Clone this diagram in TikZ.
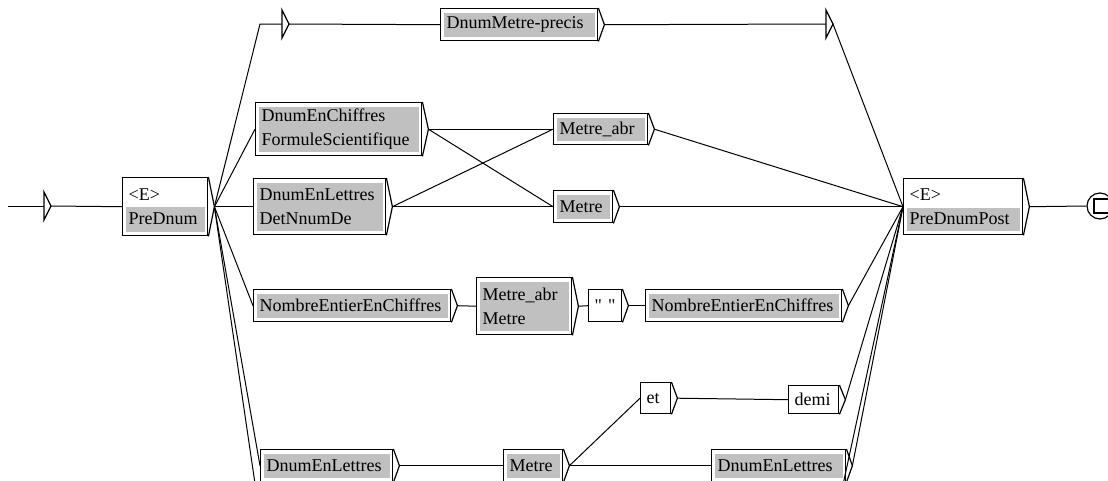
\documentclass[tikz,border=0pt]{standalone}
\usepackage{fontspec}
\setmainfont{Liberation Serif}
\newfontfamily\qfont{Liberation Serif}[Ligatures=TeXOff]
\usetikzlibrary{calc}
\definecolor{boxgrey}{RGB}{192,192,192}
\tikzset{
  conn/.style={line width=1pt},
  tri/.style={line width=1.2pt},
  ubox/.style={draw, line width=1.4pt, fill=white, anchor=north west, inner xsep=6pt, inner ysep=0pt,
    font=\fontsize{18}{24}\selectfont, align=left},
  greyall/.style={path picture={\fill[boxgrey] ([shift={(3pt,-4pt)}]path picture bounding box.north west) rectangle ([shift={(-3pt,4pt)}]path picture bounding box.south east);}},
  greylow/.style={path picture={\fill[boxgrey] ([shift={(3pt,-#1)}]path picture bounding box.north west) rectangle ([shift={(-3pt,4pt)}]path picture bounding box.south east);}},
  sz/.code 2 args={\pgfmathsetlengthmacro\boxtw{#1pt-12pt}\edef\boxtmp{\noexpand\tikzset{minimum width=#1pt, minimum height=#2pt, text width=\boxtw}}\boxtmp},
}
\begin{document}
\hyphenpenalty=10000
\exhyphenpenalty=10000
\begin{tikzpicture}[x=1pt,y=-1pt]
\useasboundingbox (0,0) rectangle (1108,480);
\fill[white] (0,0) rectangle (1108,480);
\clip (0,0) rectangle (1108,480);

% boxes
\node[ubox, sz={85}{58}, greylow=29pt] (pre) at (122,177) {<E>\\PreDnum};
\node[ubox, sz={157}{32}, greyall] (dmp) at (440,8) {DnumMetre-precis};
\node[ubox, sz={166}{53}, greyall] (A) at (255,102) {DnumEnChiffres\\FormuleScientifique};
\node[ubox, sz={132}{56}, greyall] (B) at (253,178) {DnumEnLettres\\DetNnumDe};
\node[ubox, sz={94}{31}, greyall] (C) at (553,113) {Metre\_abr};
\node[ubox, sz={59}{32}, greyall] (D) at (553,190) {Metre};
\node[ubox, sz={197}{32}, greyall] (N1) at (253,289) {NombreEntierEnChiffres};
\node[ubox, sz={95}{57}, greyall] (MM) at (476,277) {Metre\_abr\\Metre};
\node[ubox, sz={33}{32}] (Q) at (588,289) {\mbox{\qfont\char34\ \char34}};
\node[ubox, sz={196}{32}, greyall] (N2) at (645,289) {NombreEntierEnChiffres};
\node[ubox, sz={30}{31}] (et) at (640,382) {et};
\node[ubox, sz={50}{28}] (demi) at (788,385) {demi};
\node[ubox, sz={132}{32}, greyall] (L1) at (260,449) {DnumEnLettres};
\node[ubox, sz={59}{32}, greyall] (M2) at (503,449) {Metre};
\node[ubox, sz={134}{32}, greyall] (L2) at (711,449) {DnumEnLettres};
\node[ubox, sz={119}{56}, greylow=29pt] (post) at (903,178) {<E>\\PreDnumPost};

% output chevrons
\foreach \n in {pre,dmp,A,B,C,D,N1,MM,Q,N2,et,demi,L1,M2,L2,post} {
  \draw[line width=1.2pt] (\n.north east) -- ($(\n.east)+(6pt,0pt)$) -- (\n.south east);
  \coordinate (\n-o) at ($(\n.east)+(6pt,0pt)$);
}

% initial state
\coordinate (st0) at (8,206);
\coordinate (st) at (44,206);
\coordinate (st-o) at (51,206);
\draw[conn] (st0) -- (st);
\draw[tri] (st) +(0,-14) -- +(7,0) -- +(0,14) -- cycle;
\draw[conn] (st-o) -- (pre.west);

% epsilon boxes
\coordinate (e1a) at (260,24);
\coordinate (e1) at (282,24);
\coordinate (e1-o) at (289,24);
\draw[tri] (e1) +(0,-14) -- +(7,0) -- +(0,14) -- cycle;
\coordinate (e2) at (826,24);
\coordinate (e2-o) at (833,24);
\draw[tri] (e2) +(0,-14) -- +(7,0) -- +(0,14) -- cycle;

% box below the visible frame (only its connectors show)
\coordinate (hid-in) at (264,545);
\coordinate (hid-o) at (830,545);

% final state
\node[draw, circle, line width=1.2pt, minimum size=26pt, inner sep=0pt] (fin) at (1100,206) {};
\draw[line width=1.2pt] ($(fin.center)+(-6pt,-7pt)$) rectangle ($(fin.center)+(14pt,7pt)$);

% connectors
\draw[conn] (pre-o) -- (e1a) -- (e1);
\draw[conn] (e1-o) -- (dmp.west);
\draw[conn] (dmp-o) -- (e2);
\draw[conn] (e2-o) -- (post.west);
\draw[conn] (pre-o) -- (A.west);
\draw[conn] (pre-o) -- (B.west);
\draw[conn] (pre-o) -- (N1.west);
\draw[conn] (pre-o) -- (L1.west);
\draw[conn] (pre-o) -- (hid-in);
\draw[conn] (A-o) -- (C.west);
\draw[conn] (A-o) -- (D.west);
\draw[conn] (B-o) -- (C.west);
\draw[conn] (B-o) -- (D.west);
\draw[conn] (C-o) -- (post.west);
\draw[conn] (D-o) -- (post.west);
\draw[conn] (N1-o) -- (MM.west);
\draw[conn] (MM-o) -- (Q.west);
\draw[conn] (Q-o) -- (N2.west);
\draw[conn] (N2-o) -- (post.west);
\draw[conn] (L1-o) -- (M2.west);
\draw[conn] (M2-o) -- (et.west);
\draw[conn] (M2-o) -- (L2.west);
\draw[conn] (et-o) -- (demi.west);
\draw[conn] (demi-o) -- (post.west);
\draw[conn] (L2-o) -- (post.west);
\draw[conn] (hid-o) -- (post.west);
\draw[conn] (post-o) -- (fin.west);
\end{tikzpicture}
\end{document}
